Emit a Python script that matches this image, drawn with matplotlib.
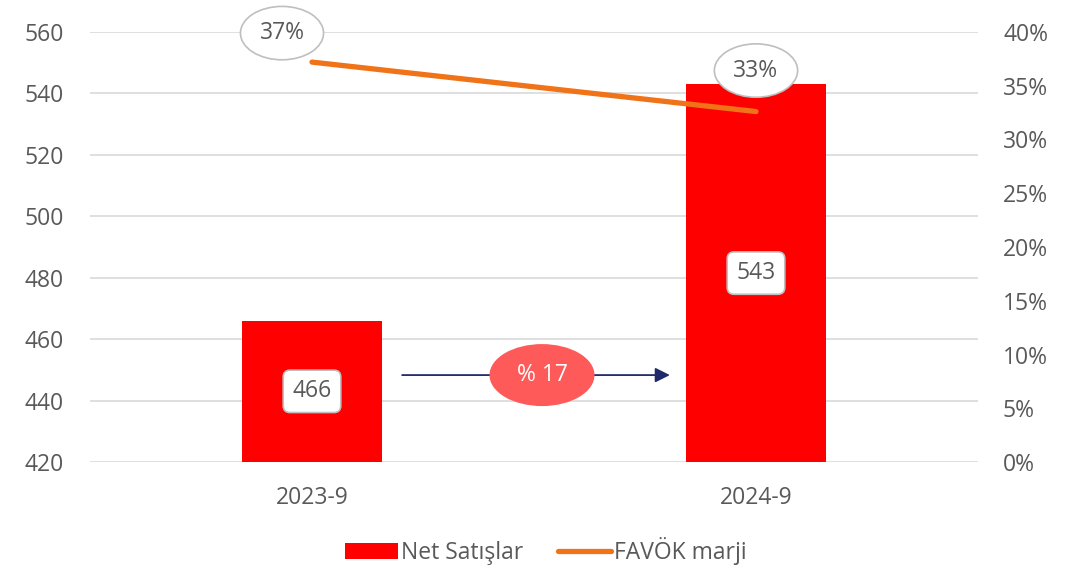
import numpy as np
import matplotlib.pyplot as plt
from matplotlib.patches import Ellipse

plt.rcParams['font.family'] = ['Open Sans', 'DejaVu Sans']

# data
periods = ['2023-9', '2024-9']
net_sales = [466, 543]
favok_margin = [37.2, 32.6]      # %
growth_label = '% 17'

GRAY = '#595959'
GRID = '#D9D9D9'
FS = 16.5

fig = plt.figure(figsize=(10.92, 5.70), dpi=100)
ax = fig.add_axes([90 / 1092, 1 - 462 / 570, 888 / 1092, 430 / 570])
ax2 = ax.twinx()

x = np.arange(len(periods))
bars = ax.bar(x, net_sales, width=0.315, color='#FF0000', zorder=2,
              label='Net Satışlar')
ax.set_xlim(-0.5, 1.5)
ax.set_ylim(420, 560)
ax.set_yticks(np.arange(420, 561, 20))
ax.grid(axis='y', color=GRID, lw=1.2, zorder=0)
ax.set_axisbelow(True)
ax.set_xticks(x)
ax.set_xticklabels(periods)

line, = ax2.plot(x, favok_margin, color='#F07318', lw=3.8,
                 solid_capstyle='round', zorder=3, label='FAVÖK marji')
ax2.set_ylim(0, 40)
ax2.set_yticks(np.arange(0, 41, 5))
ax2.set_yticklabels([f'{v}%' for v in range(0, 41, 5)])

for a in (ax, ax2):
    for s in a.spines.values():
        s.set_visible(False)
    a.tick_params(length=0, labelsize=FS, labelcolor=GRAY)
ax.tick_params(axis='x', pad=17)
ax.tick_params(axis='y', pad=19)
ax2.tick_params(axis='y', pad=18)

# bar value labels in the middle of the bars
for xi, v in zip(x, net_sales):
    ax.text(xi, (420 + v) / 2, f'{v}', ha='center', va='center',
            fontsize=FS, color=GRAY, zorder=5,
            bbox=dict(boxstyle='round,pad=0.4,rounding_size=0.3',
                      fc='white', ec='#BFBFBF', lw=1.2))

# margin labels in ellipses
offsets = [(-30, 29), (0, 41)]
for xi, v, (dx, dy) in zip(x, favok_margin, offsets):
    ax2.annotate(f'{v:.0f}%', (xi, v), xytext=(dx, dy),
                 textcoords='offset pixels', ha='center', va='center',
                 fontsize=FS, color=GRAY, zorder=6,
                 bbox=dict(boxstyle='ellipse,pad=0.3', fc='white',
                           ec='#BFBFBF', lw=1.2))

# growth arrow
ay = 448.3
ax.annotate('', xy=(0.806, ay), xytext=(0.203, ay),
            arrowprops=dict(arrowstyle='-|>', color='#1F2A6B', lw=1.3,
                            mutation_scale=22, shrinkA=0, shrinkB=0),
            zorder=4)
ell = Ellipse((0.518, ay), width=105 / 444, height=62 / 430 * 140,
              fc='#FF5A5A', ec='none', zorder=5)
ax.add_patch(ell)
ax.text(0.518, ay, growth_label, ha='center', va='center', fontsize=FS,
        color='white', zorder=6)

fig.legend(handles=[bars, line], labels=['Net Satışlar', 'FAVÖK marji'],
           loc='lower center', bbox_to_anchor=(0.5, -0.028), ncol=2,
           frameon=False, fontsize=FS, labelcolor=GRAY,
           handlelength=2.3, handletextpad=0.15, columnspacing=1.5)

fig.savefig('out.png', dpi=100)
